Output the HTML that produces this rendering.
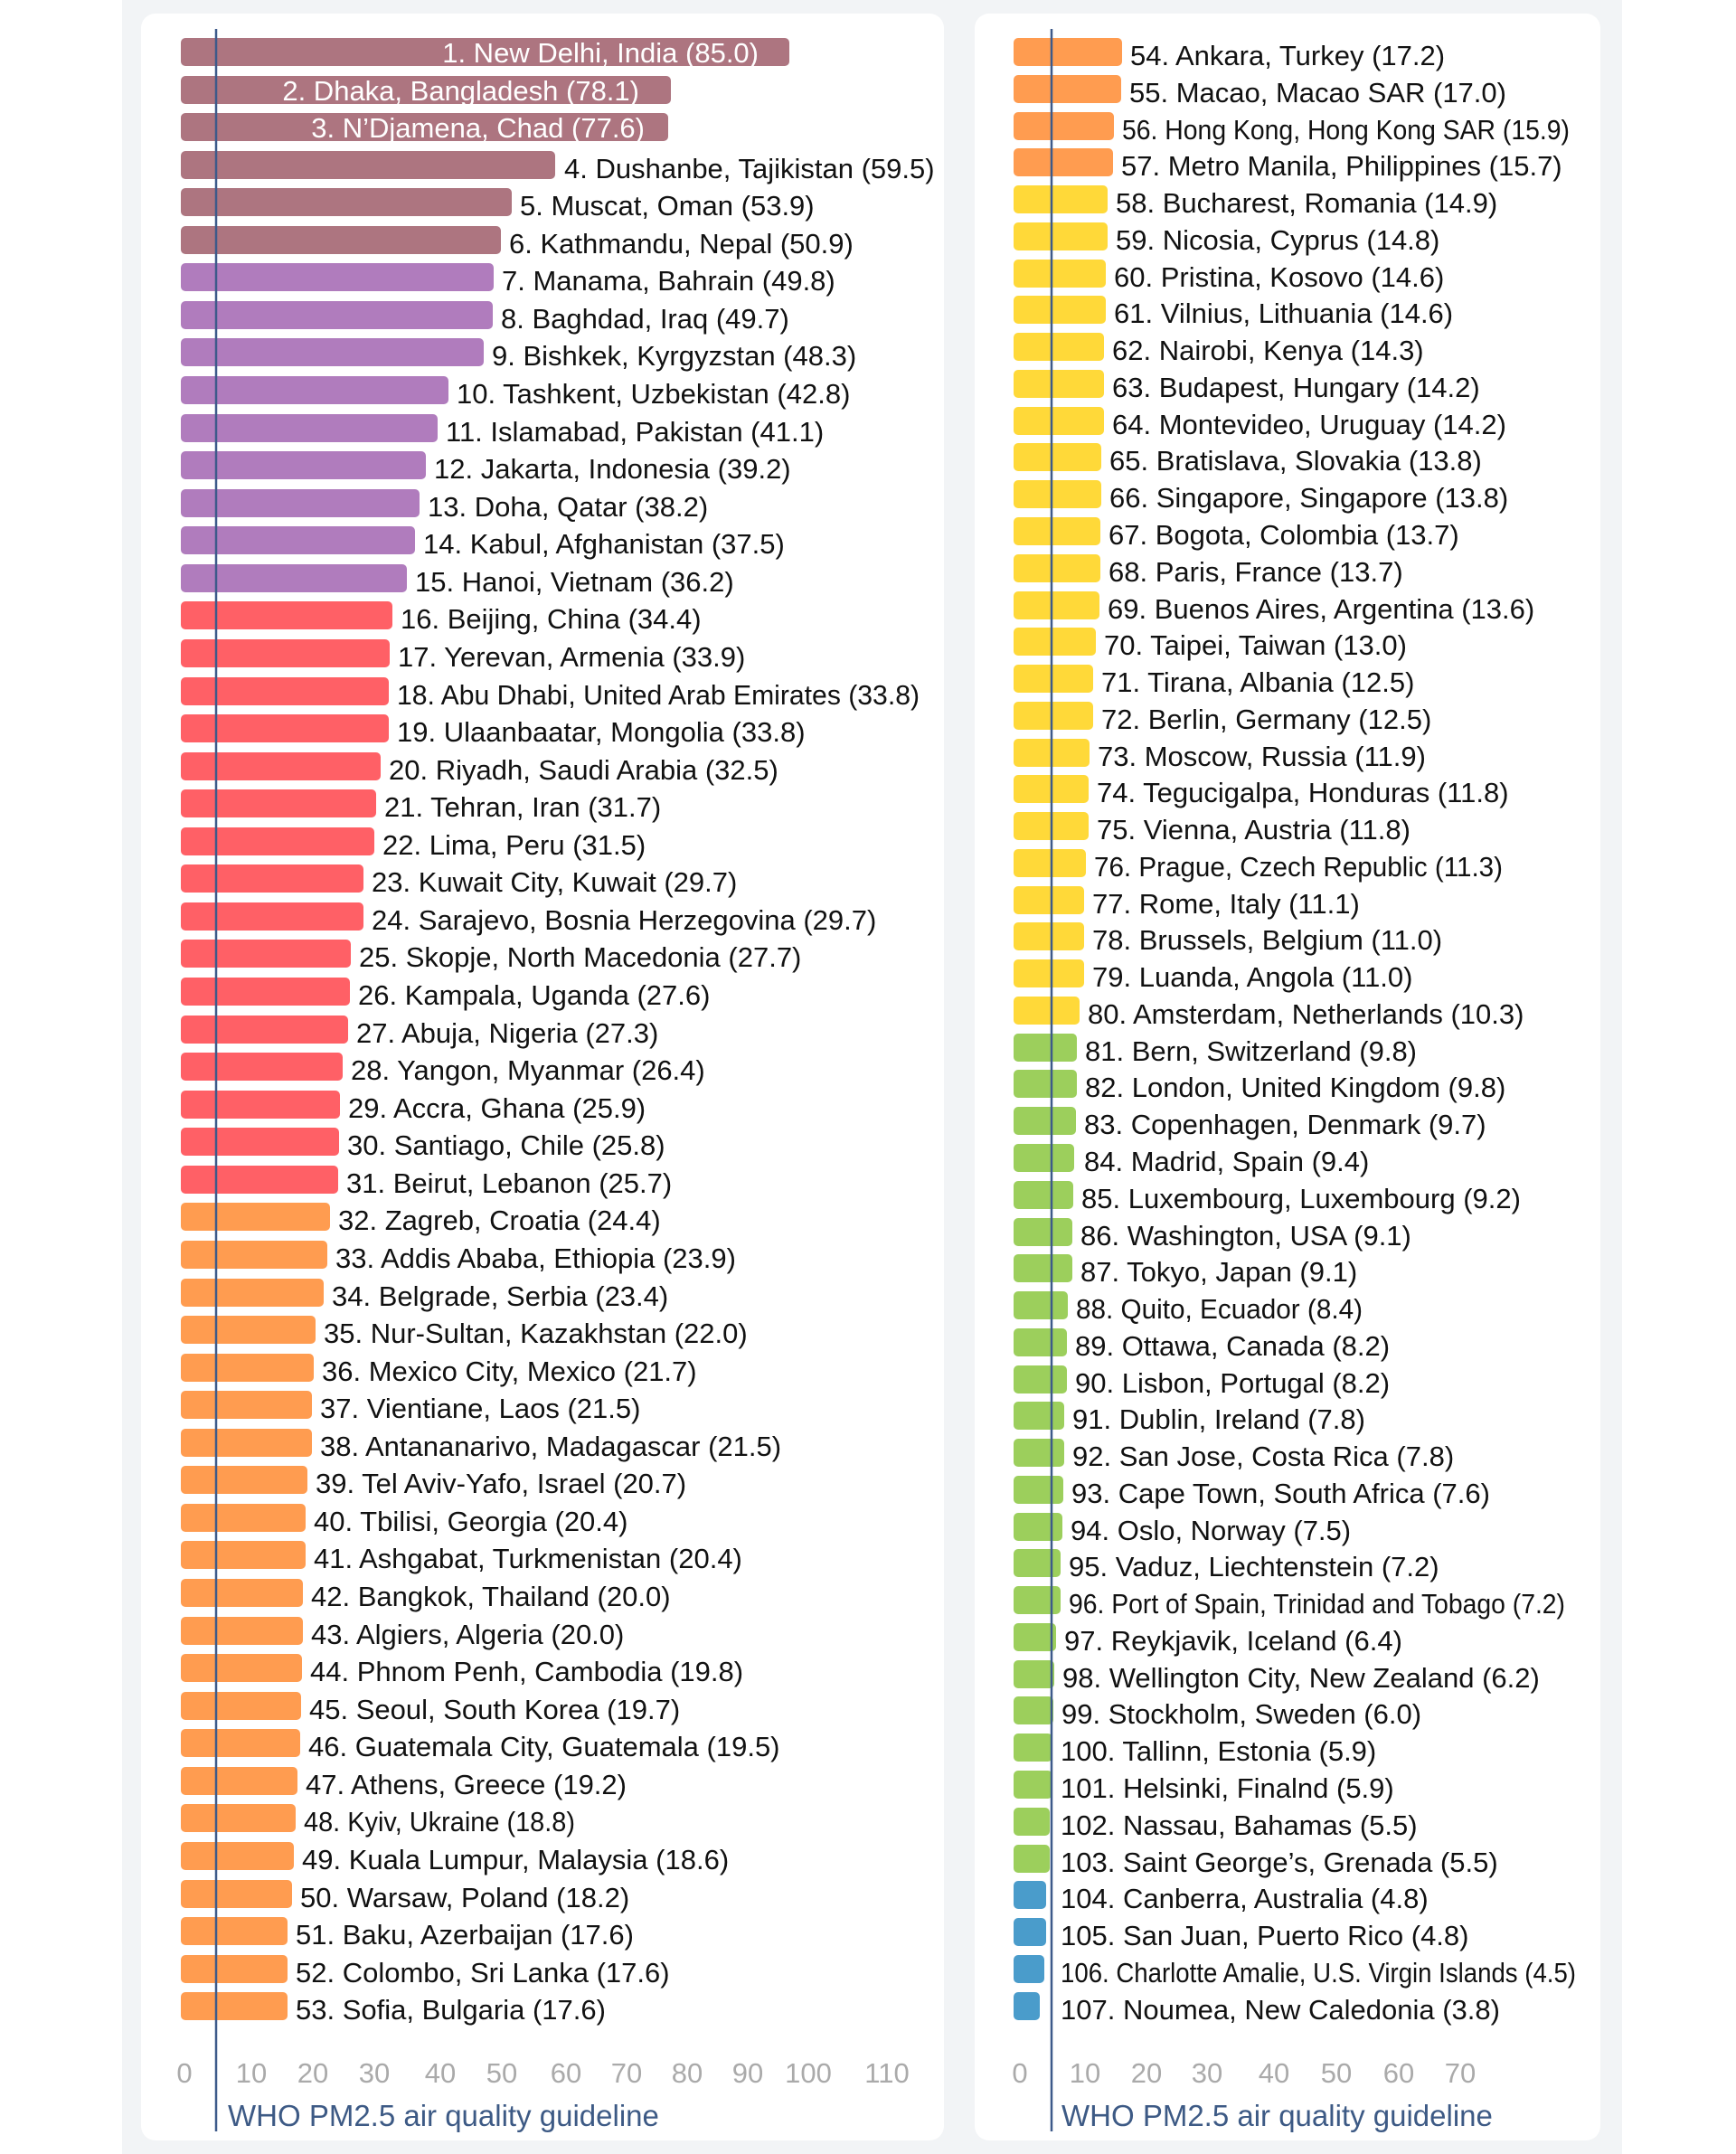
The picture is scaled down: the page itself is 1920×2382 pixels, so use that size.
<!DOCTYPE html><html><head><meta charset="utf-8"><style>
body{margin:0;background:#fff}
svg{display:block}
text{font-family:"Liberation Sans",sans-serif;font-size:31px;fill:#111}
.w{fill:#fff}
.t{fill:#aaa;text-anchor:middle;font-size:31px}
.g{fill:#3d5a85;font-size:33px}
.m rect{fill:#ad7580}.p rect{fill:#b07cbd}.r rect{fill:#ff6066}.o rect{fill:#ff9c50}.y rect{fill:#ffd939}.n rect{fill:#9ccf5c}.b rect{fill:#4a9ccb}
</style></head><body>
<svg width="1920" height="2382" viewBox="0 0 1920 2382" xmlns="http://www.w3.org/2000/svg">
<rect x="135" y="0" width="1659" height="2382" fill="#f2f4f6"/>
<rect x="156" y="15" width="888" height="2352" rx="16" fill="#fff"/>
<rect x="1078" y="15" width="692" height="2352" rx="16" fill="#fff"/>
<g class="m">
<rect x="200" y="42" width="673" height="31" rx="5"/><text class="w" x="839" y="69" text-anchor="end">1. New Delhi, India (85.0)</text>
<rect x="200" y="84" width="542" height="31" rx="5"/><text class="w" x="707" y="111" text-anchor="end">2. Dhaka, Bangladesh (78.1)</text>
<rect x="200" y="125" width="539" height="31" rx="5"/><text class="w" x="713" y="152" text-anchor="end">3. N’Djamena, Chad  (77.6)</text>
<rect x="200" y="167" width="414" height="31" rx="5"/><text x="624" y="197">4. Dushanbe, Tajikistan (59.5)</text>
<rect x="200" y="208" width="366" height="31" rx="5"/><text x="575" y="238">5. Muscat, Oman (53.9)</text>
<rect x="200" y="250" width="354" height="31" rx="5"/><text x="563" y="280">6. Kathmandu, Nepal (50.9)</text>
</g><g class="p">
<rect x="200" y="291" width="346" height="31" rx="5"/><text x="555" y="321">7. Manama, Bahrain (49.8)</text>
<rect x="200" y="333" width="345" height="31" rx="5"/><text x="554" y="363">8. Baghdad, Iraq (49.7)</text>
<rect x="200" y="374" width="335" height="31" rx="5"/><text x="544" y="404">9. Bishkek, Kyrgyzstan (48.3)</text>
<rect x="200" y="416" width="296" height="31" rx="5"/><text x="505" y="446">10. Tashkent, Uzbekistan (42.8)</text>
<rect x="200" y="458" width="284" height="31" rx="5"/><text x="493" y="488">11. Islamabad, Pakistan (41.1)</text>
<rect x="200" y="499" width="271" height="31" rx="5"/><text x="480" y="529">12. Jakarta, Indonesia (39.2)</text>
<rect x="200" y="541" width="264" height="31" rx="5"/><text x="473" y="571">13. Doha, Qatar (38.2)</text>
<rect x="200" y="582" width="259" height="31" rx="5"/><text x="468" y="612">14. Kabul, Afghanistan (37.5)</text>
<rect x="200" y="624" width="250" height="31" rx="5"/><text x="459" y="654">15. Hanoi, Vietnam (36.2)</text>
</g><g class="r">
<rect x="200" y="665" width="234" height="31" rx="5"/><text x="443" y="695">16. Beijing, China (34.4)</text>
<rect x="200" y="707" width="231" height="31" rx="5"/><text x="440" y="737">17. Yerevan, Armenia (33.9)</text>
<rect x="200" y="749" width="230" height="31" rx="5"/><text x="439" y="779" textLength="578" lengthAdjust="spacingAndGlyphs">18. Abu Dhabi, United Arab Emirates (33.8)</text>
<rect x="200" y="790" width="230" height="31" rx="5"/><text x="439" y="820">19. Ulaanbaatar, Mongolia (33.8)</text>
<rect x="200" y="832" width="221" height="31" rx="5"/><text x="430" y="862">20. Riyadh, Saudi Arabia (32.5)</text>
<rect x="200" y="873" width="216" height="31" rx="5"/><text x="425" y="903">21. Tehran, Iran (31.7)</text>
<rect x="200" y="915" width="214" height="31" rx="5"/><text x="423" y="945">22. Lima, Peru (31.5)</text>
<rect x="200" y="956" width="202" height="31" rx="5"/><text x="411" y="986">23. Kuwait City, Kuwait (29.7)</text>
<rect x="200" y="998" width="202" height="31" rx="5"/><text x="411" y="1028">24. Sarajevo, Bosnia Herzegovina (29.7)</text>
<rect x="200" y="1039" width="188" height="31" rx="5"/><text x="397" y="1069">25. Skopje, North Macedonia (27.7)</text>
<rect x="200" y="1081" width="187" height="31" rx="5"/><text x="396" y="1111">26. Kampala, Uganda (27.6)</text>
<rect x="200" y="1123" width="185" height="31" rx="5"/><text x="394" y="1153">27. Abuja, Nigeria (27.3)</text>
<rect x="200" y="1164" width="179" height="31" rx="5"/><text x="388" y="1194">28. Yangon, Myanmar (26.4)</text>
<rect x="200" y="1206" width="176" height="31" rx="5"/><text x="385" y="1236">29. Accra, Ghana (25.9)</text>
<rect x="200" y="1247" width="175" height="31" rx="5"/><text x="384" y="1277">30. Santiago, Chile (25.8)</text>
<rect x="200" y="1289" width="174" height="31" rx="5"/><text x="383" y="1319">31. Beirut, Lebanon (25.7)</text>
</g><g class="o">
<rect x="200" y="1330" width="165" height="31" rx="5"/><text x="374" y="1360">32. Zagreb, Croatia (24.4)</text>
<rect x="200" y="1372" width="162" height="31" rx="5"/><text x="371" y="1402">33. Addis Ababa, Ethiopia (23.9)</text>
<rect x="200" y="1414" width="158" height="31" rx="5"/><text x="367" y="1444">34. Belgrade, Serbia (23.4)</text>
<rect x="200" y="1455" width="149" height="31" rx="5"/><text x="358" y="1485">35. Nur-Sultan, Kazakhstan (22.0)</text>
<rect x="200" y="1497" width="147" height="31" rx="5"/><text x="356" y="1527">36. Mexico City, Mexico (21.7)</text>
<rect x="200" y="1538" width="145" height="31" rx="5"/><text x="354" y="1568">37. Vientiane, Laos (21.5)</text>
<rect x="200" y="1580" width="145" height="31" rx="5"/><text x="354" y="1610">38. Antananarivo, Madagascar (21.5)</text>
<rect x="200" y="1621" width="140" height="31" rx="5"/><text x="349" y="1651">39. Tel Aviv-Yafo, Israel (20.7)</text>
<rect x="200" y="1663" width="138" height="31" rx="5"/><text x="347" y="1693">40. Tbilisi, Georgia (20.4)</text>
<rect x="200" y="1704" width="138" height="31" rx="5"/><text x="347" y="1734">41. Ashgabat, Turkmenistan (20.4)</text>
<rect x="200" y="1746" width="135" height="31" rx="5"/><text x="344" y="1776">42. Bangkok, Thailand (20.0)</text>
<rect x="200" y="1788" width="135" height="31" rx="5"/><text x="344" y="1818">43. Algiers, Algeria (20.0)</text>
<rect x="200" y="1829" width="134" height="31" rx="5"/><text x="343" y="1859">44. Phnom Penh, Cambodia (19.8)</text>
<rect x="200" y="1871" width="133" height="31" rx="5"/><text x="342" y="1901">45. Seoul, South Korea (19.7)</text>
<rect x="200" y="1912" width="132" height="31" rx="5"/><text x="341" y="1942">46. Guatemala City, Guatemala (19.5)</text>
<rect x="200" y="1954" width="129" height="31" rx="5"/><text x="338" y="1984">47. Athens, Greece (19.2)</text>
<rect x="200" y="1995" width="127" height="31" rx="5"/><text x="336" y="2025" textLength="300" lengthAdjust="spacingAndGlyphs">48. Kyiv, Ukraine (18.8)</text>
<rect x="200" y="2037" width="125" height="31" rx="5"/><text x="334" y="2067">49. Kuala Lumpur, Malaysia (18.6)</text>
<rect x="200" y="2079" width="123" height="31" rx="5"/><text x="332" y="2109">50. Warsaw, Poland (18.2)</text>
<rect x="200" y="2120" width="118" height="31" rx="5"/><text x="327" y="2150">51. Baku, Azerbaijan (17.6)</text>
<rect x="200" y="2162" width="118" height="31" rx="5"/><text x="327" y="2192">52. Colombo, Sri Lanka (17.6)</text>
<rect x="200" y="2203" width="118" height="31" rx="5"/><text x="327" y="2233">53. Sofia, Bulgaria (17.6)</text>
</g>
<g class="o">
<rect x="1121" y="42" width="120" height="31" rx="5"/><text x="1250" y="72">54. Ankara, Turkey (17.2)</text>
<rect x="1121" y="83" width="119" height="31" rx="5"/><text x="1249" y="113">55. Macao, Macao SAR (17.0)</text>
<rect x="1121" y="124" width="111" height="31" rx="5"/><text x="1241" y="154" textLength="495" lengthAdjust="spacingAndGlyphs">56. Hong Kong, Hong Kong SAR (15.9)</text>
<rect x="1121" y="164" width="110" height="31" rx="5"/><text x="1240" y="194">57. Metro Manila, Philippines (15.7)</text>
</g><g class="y">
<rect x="1121" y="205" width="104" height="31" rx="5"/><text x="1234" y="235">58. Bucharest, Romania (14.9)</text>
<rect x="1121" y="246" width="104" height="31" rx="5"/><text x="1234" y="276">59. Nicosia, Cyprus (14.8)</text>
<rect x="1121" y="287" width="102" height="31" rx="5"/><text x="1232" y="317">60. Pristina, Kosovo (14.6)</text>
<rect x="1121" y="327" width="102" height="31" rx="5"/><text x="1232" y="357">61. Vilnius, Lithuania (14.6)</text>
<rect x="1121" y="368" width="100" height="31" rx="5"/><text x="1230" y="398">62. Nairobi, Kenya (14.3)</text>
<rect x="1121" y="409" width="100" height="31" rx="5"/><text x="1230" y="439">63. Budapest, Hungary (14.2)</text>
<rect x="1121" y="450" width="100" height="31" rx="5"/><text x="1230" y="480">64. Montevideo, Uruguay (14.2)</text>
<rect x="1121" y="490" width="97" height="31" rx="5"/><text x="1227" y="520">65. Bratislava, Slovakia (13.8)</text>
<rect x="1121" y="531" width="97" height="31" rx="5"/><text x="1227" y="561">66. Singapore, Singapore (13.8)</text>
<rect x="1121" y="572" width="96" height="31" rx="5"/><text x="1226" y="602">67. Bogota, Colombia (13.7)</text>
<rect x="1121" y="613" width="96" height="31" rx="5"/><text x="1226" y="643">68. Paris, France (13.7)</text>
<rect x="1121" y="654" width="95" height="31" rx="5"/><text x="1225" y="684">69. Buenos Aires, Argentina (13.6)</text>
<rect x="1121" y="694" width="91" height="31" rx="5"/><text x="1221" y="724">70. Taipei, Taiwan (13.0)</text>
<rect x="1121" y="735" width="88" height="31" rx="5"/><text x="1218" y="765">71. Tirana, Albania (12.5)</text>
<rect x="1121" y="776" width="88" height="31" rx="5"/><text x="1218" y="806">72. Berlin, Germany (12.5)</text>
<rect x="1121" y="817" width="84" height="31" rx="5"/><text x="1214" y="847">73. Moscow, Russia (11.9)</text>
<rect x="1121" y="857" width="83" height="31" rx="5"/><text x="1213" y="887">74. Tegucigalpa, Honduras (11.8)</text>
<rect x="1121" y="898" width="83" height="31" rx="5"/><text x="1213" y="928">75. Vienna, Austria (11.8)</text>
<rect x="1121" y="939" width="80" height="31" rx="5"/><text x="1210" y="969" textLength="452" lengthAdjust="spacingAndGlyphs">76. Prague, Czech Republic (11.3)</text>
<rect x="1121" y="980" width="78" height="31" rx="5"/><text x="1208" y="1010">77. Rome, Italy (11.1)</text>
<rect x="1121" y="1020" width="78" height="31" rx="5"/><text x="1208" y="1050">78. Brussels, Belgium (11.0)</text>
<rect x="1121" y="1061" width="78" height="31" rx="5"/><text x="1208" y="1091">79. Luanda, Angola (11.0)</text>
<rect x="1121" y="1102" width="73" height="31" rx="5"/><text x="1203" y="1132">80. Amsterdam, Netherlands (10.3)</text>
</g><g class="n">
<rect x="1121" y="1143" width="70" height="31" rx="5"/><text x="1200" y="1173">81. Bern, Switzerland (9.8)</text>
<rect x="1121" y="1183" width="70" height="31" rx="5"/><text x="1200" y="1213">82. London, United Kingdom (9.8)</text>
<rect x="1121" y="1224" width="69" height="31" rx="5"/><text x="1199" y="1254">83. Copenhagen, Denmark (9.7)</text>
<rect x="1121" y="1265" width="67" height="31" rx="5"/><text x="1199" y="1295">84. Madrid, Spain (9.4)</text>
<rect x="1121" y="1306" width="66" height="31" rx="5"/><text x="1196" y="1336">85. Luxembourg, Luxembourg (9.2)</text>
<rect x="1121" y="1347" width="65" height="31" rx="5"/><text x="1195" y="1377">86. Washington, USA (9.1)</text>
<rect x="1121" y="1387" width="65" height="31" rx="5"/><text x="1195" y="1417">87. Tokyo, Japan (9.1)</text>
<rect x="1121" y="1428" width="60" height="31" rx="5"/><text x="1190" y="1458" textLength="317" lengthAdjust="spacingAndGlyphs">88. Quito, Ecuador (8.4)</text>
<rect x="1121" y="1469" width="59" height="31" rx="5"/><text x="1189" y="1499">89. Ottawa, Canada (8.2)</text>
<rect x="1121" y="1510" width="59" height="31" rx="5"/><text x="1189" y="1540">90. Lisbon, Portugal (8.2)</text>
<rect x="1121" y="1550" width="56" height="31" rx="5"/><text x="1186" y="1580">91. Dublin, Ireland (7.8)</text>
<rect x="1121" y="1591" width="56" height="31" rx="5"/><text x="1186" y="1621">92. San Jose, Costa Rica (7.8)</text>
<rect x="1121" y="1632" width="55" height="31" rx="5"/><text x="1185" y="1662">93. Cape Town, South Africa (7.6)</text>
<rect x="1121" y="1673" width="54" height="31" rx="5"/><text x="1184" y="1703">94. Oslo, Norway (7.5)</text>
<rect x="1121" y="1713" width="52" height="31" rx="5"/><text x="1182" y="1743">95. Vaduz, Liechtenstein (7.2)</text>
<rect x="1121" y="1754" width="52" height="31" rx="5"/><text x="1182" y="1784" textLength="549" lengthAdjust="spacingAndGlyphs">96. Port of Spain, Trinidad and Tobago (7.2)</text>
<rect x="1121" y="1795" width="47" height="31" rx="5"/><text x="1177" y="1825">97. Reykjavik, Iceland (6.4)</text>
<rect x="1121" y="1836" width="45" height="31" rx="5"/><text x="1175" y="1866">98. Wellington City, New Zealand (6.2)</text>
<rect x="1121" y="1876" width="44" height="31" rx="5"/><text x="1174" y="1906">99. Stockholm, Sweden (6.0)</text>
<rect x="1121" y="1917" width="43" height="31" rx="5"/><text x="1173" y="1947">100. Tallinn, Estonia (5.9)</text>
<rect x="1121" y="1958" width="43" height="31" rx="5"/><text x="1173" y="1988">101. Helsinki, Finalnd (5.9)</text>
<rect x="1121" y="1999" width="40" height="31" rx="5"/><text x="1173" y="2029">102. Nassau, Bahamas (5.5)</text>
<rect x="1121" y="2040" width="40" height="31" rx="5"/><text x="1173" y="2070">103. Saint George’s, Grenada (5.5)</text>
</g><g class="b">
<rect x="1121" y="2080" width="36" height="31" rx="5"/><text x="1173" y="2110">104. Canberra, Australia (4.8)</text>
<rect x="1121" y="2121" width="36" height="31" rx="5"/><text x="1173" y="2151">105. San Juan, Puerto Rico (4.8)</text>
<rect x="1121" y="2162" width="34" height="31" rx="5"/><text x="1173" y="2192" textLength="570" lengthAdjust="spacingAndGlyphs">106. Charlotte Amalie, U.S. Virgin Islands (4.5)</text>
<rect x="1121" y="2203" width="29" height="31" rx="5"/><text x="1173" y="2233">107. Noumea, New Caledonia (3.8)</text>
</g>
<line x1="239" y1="32" x2="239" y2="2357" stroke="#3d5a8a" stroke-width="2.5"/>
<line x1="1163" y1="32" x2="1163" y2="2357" stroke="#3d5a8a" stroke-width="2.5"/>
<g class="t">
<text class="t" x="204" y="2303">0</text><text class="t" x="278" y="2303">10</text><text class="t" x="346" y="2303">20</text><text class="t" x="414" y="2303">30</text><text class="t" x="487" y="2303">40</text><text class="t" x="555" y="2303">50</text><text class="t" x="626" y="2303">60</text><text class="t" x="693" y="2303">70</text><text class="t" x="760" y="2303">80</text><text class="t" x="827" y="2303">90</text><text class="t" x="894" y="2303">100</text><text class="t" x="981" y="2303">110</text>
<text class="t" x="1128" y="2303">0</text><text class="t" x="1200" y="2303">10</text><text class="t" x="1268" y="2303">20</text><text class="t" x="1335" y="2303">30</text><text class="t" x="1409" y="2303">40</text><text class="t" x="1478" y="2303">50</text><text class="t" x="1547" y="2303">60</text><text class="t" x="1615" y="2303">70</text>
</g>
<text class="g" x="252" y="2351">WHO PM2.5 air quality guideline</text>
<text class="g" x="1174" y="2351">WHO PM2.5 air quality guideline</text>
</svg>
</body></html>
